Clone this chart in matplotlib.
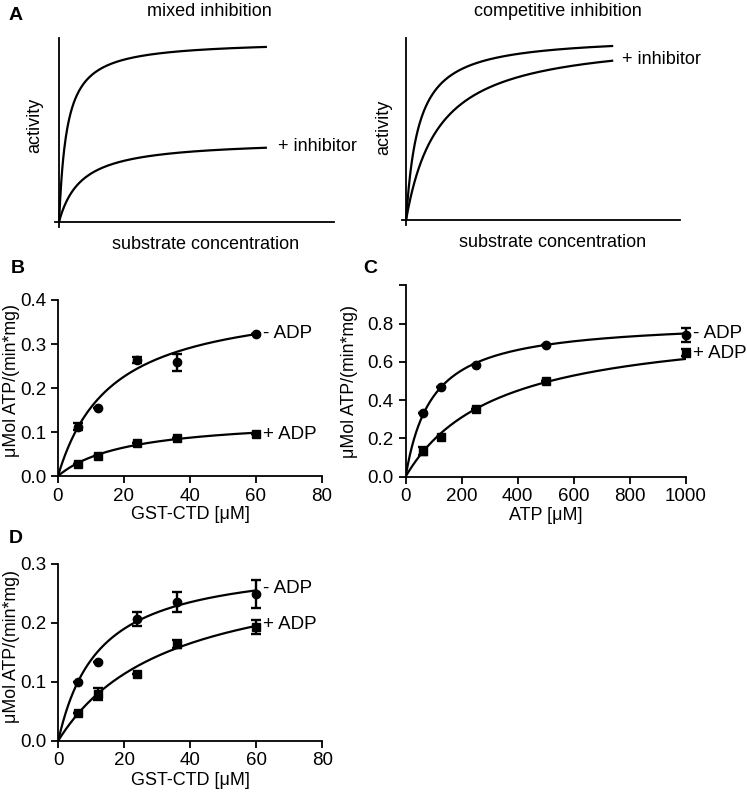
import matplotlib.pyplot as plt
import numpy as np

plt.rcParams['font.family'] = ['Liberation Sans', 'DejaVu Sans']

# panel A: schematic Michaelis-Menten curves (Vmax, Km) in arbitrary units
mixed_vmax = [0.987, 0.446]
mixed_km = [0.028, 0.082]
comp_vmax = [1.013, 1.013]
comp_km = [0.045, 0.119]
schematic_xmax = 0.752

# panel B: GST-CTD titration
b_conc = [6, 12, 24, 36, 60]
b_minus = [0.112, 0.155, 0.263, 0.258, 0.323]
b_minus_err = [0.008, 0.0, 0.007, 0.02, 0.0]
b_plus = [0.027, 0.045, 0.075, 0.086, 0.095]
b_plus_err = [0.0, 0.0, 0.0, 0.0, 0.0]
b_fit_vmax = [0.41, 0.133]
b_fit_km = [16.3, 21.0]

# panel C: ATP titration
c_conc = [62.5, 125, 250, 500, 1000]
c_minus = [0.333, 0.469, 0.583, 0.69, 0.74]
c_minus_err = [0.0, 0.0, 0.0, 0.0, 0.037]
c_plus = [0.135, 0.207, 0.354, 0.502, 0.648]
c_plus_err = [0.022, 0.0, 0.0, 0.0, 0.018]
c_fit_vmax = [0.82, 0.817]
c_fit_km = [95.0, 327.0]

# panel D: GST-CTD titration
d_conc = [6, 12, 24, 36, 60]
d_minus = [0.1, 0.134, 0.206, 0.236, 0.249]
d_minus_err = [0.0, 0.0, 0.012, 0.017, 0.024]
d_plus = [0.0465, 0.079, 0.114, 0.164, 0.193]
d_plus_err = [0.0, 0.01, 0.0, 0.007, 0.012]
d_fit_vmax = [0.308, 0.3045]
d_fit_km = [12.4, 33.7]

YLABEL = '\u03bcMol ATP/(min*mg)'


def mm(x, vmax, km):
    return vmax * x / (km + x)


def schematic(ax, vmax, km, label, label_xy, xlab_xy, ylab_xy):
    x = np.linspace(0, schematic_xmax, 400)
    for v, k in zip(vmax, km):
        ax.plot(x, mm(x, v, k), color='black', lw=1.6)
    ax.set_xlim(-0.015, 1.0)
    ax.set_ylim(-0.03, 1.0)
    ax.spines['left'].set_position(('data', 0))
    ax.spines['bottom'].set_position(('data', 0))
    for s in ['top', 'right']:
        ax.spines[s].set_visible(False)
    for s in ['left', 'bottom']:
        ax.spines[s].set_linewidth(1.3)
    ax.set_xticks([])
    ax.set_yticks([])
    ax.set_xlabel('substrate concentration', fontsize=13)
    ax.set_ylabel('activity', fontsize=13)
    ax.xaxis.set_label_coords(*xlab_xy)
    ax.yaxis.set_label_coords(*ylab_xy)
    ax.text(label_xy[0], label_xy[1], label, fontsize=13, va='center')


def kinetics(ax, conc, minus, minus_err, plus, plus_err, fit_v, fit_k,
             xmax, xticks, yticks, yticklabels, xlabel, lab_dy, xlab_y, ylab_xy):
    x = np.linspace(0, max(conc), 400)
    ax.plot(x, mm(x, fit_v[0], fit_k[0]), color='black', lw=1.6)
    ax.plot(x, mm(x, fit_v[1], fit_k[1]), color='black', lw=1.6)
    ax.errorbar(conc, minus, yerr=minus_err, fmt='o', color='black', ms=6,
                capsize=3.5, elinewidth=1.7, capthick=1.7, clip_on=False)
    ax.errorbar(conc, plus, yerr=plus_err, fmt='s', color='black', ms=6,
                capsize=3.5, elinewidth=1.7, capthick=1.7, clip_on=False)
    ax.set_xlim(0, xmax)
    ax.set_ylim(0, yticks[-1])
    ax.set_xticks(xticks)
    ax.set_yticks(yticks)
    ax.set_yticklabels(yticklabels)
    for s in ['top', 'right']:
        ax.spines[s].set_visible(False)
    for s in ['left', 'bottom']:
        ax.spines[s].set_linewidth(1.3)
    ax.tick_params(labelsize=13.5, width=1.3, length=5)
    ax.set_xlabel(xlabel, fontsize=13)
    ax.set_ylabel(YLABEL, fontsize=12.8)
    ax.xaxis.set_label_coords(0.5, xlab_y)
    ax.yaxis.set_label_coords(*ylab_xy)
    ax.text(max(conc) + 0.025 * xmax, minus[-1] + lab_dy[0], '- ADP',
            fontsize=13.5, va='center')
    ax.text(max(conc) + 0.025 * xmax, plus[-1] + lab_dy[1], '+ ADP',
            fontsize=13.5, va='center')


fig = plt.figure(figsize=(7.47, 7.93), dpi=100)

ax_a1 = fig.add_axes([0.0736, 0.7137, 0.3735, 0.2383])
schematic(ax_a1, mixed_vmax, mixed_km, '+ inhibitor', (0.797, 0.411),
          (0.538, -0.045), (-0.043, 0.54))
fig.text(209.5 / 747, 1 - 11 / 793, 'mixed inhibition', fontsize=13,
         ha='center', va='center')

ax_a2 = fig.add_axes([0.5382, 0.7163, 0.3722, 0.2358])
schematic(ax_a2, comp_vmax, comp_km, '+ inhibitor', (0.789, 0.882),
          (0.54, -0.048), (-0.036, 0.524))
fig.text(558 / 747, 1 - 11 / 793, 'competitive inhibition', fontsize=13,
         ha='center', va='center')

ax_b = fig.add_axes([0.0776, 0.3997, 0.3534, 0.222])
kinetics(ax_b, b_conc, b_minus, b_minus_err, b_plus, b_plus_err,
         b_fit_vmax, b_fit_km, 80, [0, 20, 40, 60, 80],
         [0.0, 0.1, 0.2, 0.3, 0.4], ['0.0', '0.1', '0.2', '0.3', '0.4'],
         'GST-CTD [\u03bcM]', (0.0, 0.0), -0.17, (-0.145, 0.54))

ax_c = fig.add_axes([0.543, 0.399, 0.375, 0.241])
kinetics(ax_c, c_conc, c_minus, c_minus_err, c_plus, c_plus_err,
         c_fit_vmax, c_fit_km, 1000, [0, 200, 400, 600, 800, 1000],
         [0.0, 0.2, 0.4, 0.6, 0.8, 1.0], ['0.0', '0.2', '0.4', '0.6', '0.8', ''],
         'ATP [\u03bcM]', (0.008, -0.004), -0.16, (-0.17, 0.5))

ax_d = fig.add_axes([0.078, 0.066, 0.3534, 0.2228])
kinetics(ax_d, d_conc, d_minus, d_minus_err, d_plus, d_plus_err,
         d_fit_vmax, d_fit_km, 80, [0, 20, 40, 60, 80],
         [0.0, 0.1, 0.2, 0.3], ['0.0', '0.1', '0.2', '0.3'],
         'GST-CTD [\u03bcM]', (0.01, 0.005), -0.175, (-0.145, 0.533))

for lab, x, y in [('A', 0.012, 0.98), ('B', 0.014, 0.661), ('C', 0.486, 0.661), ('D', 0.012, 0.321)]:
    fig.text(x, y, lab, fontsize=14, fontweight='bold', va='center')

fig.savefig('out.png', dpi=100)
